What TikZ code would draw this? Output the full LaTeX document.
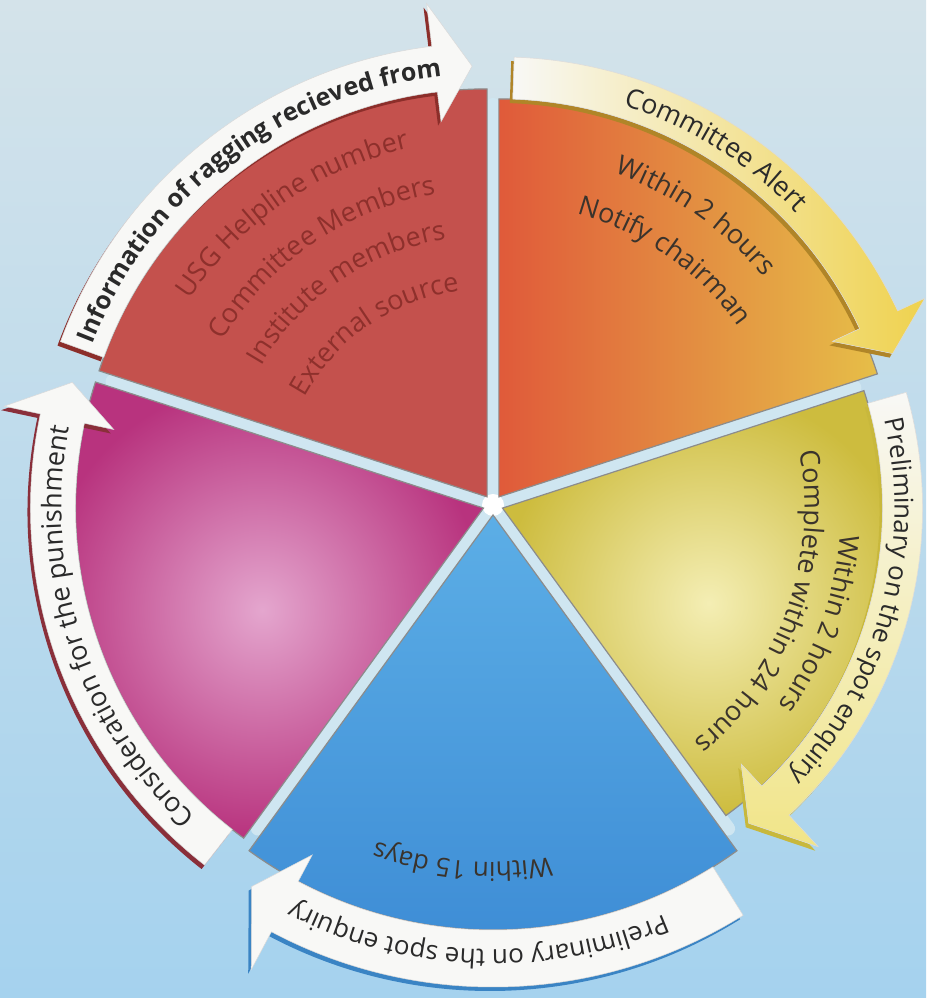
\documentclass[tikz,border=0pt]{standalone}
\usepackage{fontspec}
\setmainfont{Open Sans}
\usetikzlibrary{decorations.text}

\definecolor{skytop}{HTML}{D4E3EA}
\definecolor{skybot}{HTML}{A5D2EE}
\definecolor{gapcol}{HTML}{CFE6F1}
\definecolor{redsec}{HTML}{C4514D}
\definecolor{redshade}{HTML}{8C2E2A}
\definecolor{redtext}{HTML}{8E302C}
\definecolor{orangeL}{HTML}{E05A3A}
\definecolor{orangeR}{HTML}{E6BE48}
\definecolor{orangeband}{HTML}{EFD24E}
\definecolor{orangeshade}{HTML}{B08528}
\definecolor{yellowsec}{HTML}{CDBC3E}
\definecolor{yellowhi}{HTML}{F4EEB4}
\definecolor{yellowband}{HTML}{F1E588}
\definecolor{yellowshade}{HTML}{C8B83C}
\definecolor{bluetop}{HTML}{5CAEE6}
\definecolor{bluebot}{HTML}{3D8CD5}
\definecolor{blueshade}{HTML}{3A84C4}
\definecolor{pinksec}{HTML}{B8337E}
\definecolor{pinkhi}{HTML}{E4A6CE}
\definecolor{pinkshade}{HTML}{8A2F3A}
\definecolor{bandwhite}{HTML}{F8F8F6}
\definecolor{bandtext}{HTML}{2A2A2A}
\definecolor{darktext}{HTML}{3A332C}

\newcommand\bandfont{\fontsize{27}{30}\selectfont}
\newcommand\bandbold{\fontsize{25}{28}\selectfont\bfseries}
\newcommand\secfont{\fontsize{27}{30}\selectfont}

\tikzset{
  sector/.style={draw=black!45, line width=1.2pt},
  gapline/.style={draw=gapcol, line width=14pt, line cap=round},
  band/.style={preaction={fill=#1, transform canvas={shift={(-3,-4)}}}, fill=bandwhite, draw=black!15, line width=0.5pt},
  arctext/.style={decorate, decoration={text along path, text align=center}}
}

\begin{document}
\begin{tikzpicture}[x=1pt, y=1pt]
\useasboundingbox (0,0) rectangle (926,998);
\shade[top color=skytop, bottom color=skybot] (0,0) rectangle (926,998);

\begin{scope}[shift={(493,493)}]
  % light gaps between the pieces
  \path[gapline] (0,0) -- (90:400) (0,0) -- (18:380) (0,0) -- (-54:400) (0,0) -- (-126:400) (0,0) -- (162:400);
  \fill[white] (0,0) circle (11);

  % information received
  \begin{scope}[shift={(126:10)}]
    \path[sector, fill=redsec] (0,0) -- (162:408) arc[start angle=162, end angle=90, radius=408] -- cycle;
    \path[band=redshade] (160:408) arc[start angle=160, end angle=97, radius=408] -- (97:378) -- (92:431) -- (97:497) -- (97:454) arc[start angle=97, end angle=160, radius=454] -- cycle;
    \path[arctext, decoration={text={|\bandbold\color{bandtext}|Information of ragging recieved from}}] (163:423) arc[start angle=163, end angle=92, radius=423];
    \path[arctext, decoration={text={|\secfont\color{redtext}|USG Helpline number}}] (165:357) arc[start angle=165, end angle=84, radius=357];
    \path[arctext, decoration={text={|\secfont\color{redtext}|Committee Members}}] (165:307) arc[start angle=165, end angle=84, radius=307];
    \path[arctext, decoration={text={|\secfont\color{redtext}|Institute members}}] (170:261) arc[start angle=170, end angle=79, radius=261];
    \path[arctext, decoration={text={|\secfont\color{redtext}|External source}}] (175:208) arc[start angle=175, end angle=74, radius=208];
  \end{scope}

  % committee alert
  \begin{scope}[shift={(54:10)}]
    \shade[sector, left color=orangeL, right color=orangeR] (0,0) -- (90:398) arc[start angle=90, end angle=18, radius=398] -- cycle;
    \shade[band=orangeshade, left color=bandwhite, right color=orangeband] (88:398) arc[start angle=88, end angle=25, radius=398] -- (25:368) -- (20:419) -- (25:470) -- (25:440) arc[start angle=25, end angle=88, radius=440] -- cycle;
    \path[arctext, decoration={text={|\bandfont\color{bandtext}|Committee Alert}}] (88:411) arc[start angle=88, end angle=28, radius=411];
    \path[arctext, decoration={text={|\secfont\color{darktext}|Within 2 hours}}] (95:344) arc[start angle=95, end angle=15, radius=344];
    \path[arctext, decoration={text={|\secfont\color{darktext}|Notify chairman}}] (95:294) arc[start angle=95, end angle=15, radius=294];
  \end{scope}

  % on the spot enquiry
  \begin{scope}[shift={(-18:10)}]
    \shade[sector, inner color=yellowhi, outer color=yellowsec] (0,0) -- (18:380) arc[start angle=18, end angle=-54, radius=380] -- cycle;
    \shade[band=yellowshade, top color=bandwhite, bottom color=yellowband] (16:380) arc[start angle=16, end angle=-47, radius=380] -- (-47:350) -- (-52:400) -- (-47:463) -- (-47:420) arc[start angle=-47, end angle=16, radius=420] -- cycle;
    \path[arctext, decoration={text={|\fontsize{26}{29}\selectfont\color{bandtext}|Preliminary on the spot enquiry}}] (18:392) arc[start angle=18, end angle=-48, radius=392];
    \path[arctext, decoration={text={|\secfont\color{darktext}|Within 2 hours}}] (20:339) arc[start angle=20, end angle=-60, radius=339];
    \path[arctext, decoration={text={|\secfont\color{darktext}|Complete within 24 hours}}] (20:302) arc[start angle=20, end angle=-60, radius=302];
  \end{scope}

  % enquiry within 15 days
  \begin{scope}[shift={(-90:10)}]
    \shade[sector, top color=bluetop, bottom color=bluebot] (0,0) -- (-54:415) arc[start angle=-54, end angle=-126, radius=415] -- cycle;
    \path[band=blueshade] (-58:415) arc[start angle=-58, end angle=-118, radius=415] -- (-118:385) -- (-123:443) -- (-118:515) -- (-118:472) arc[start angle=-118, end angle=-58, radius=472] -- cycle;
    \path[arctext, decoration={text={|\fontsize{26}{29}\selectfont\color{bandtext}|Preliminary on the spot enquiry}}] (-60:435) arc[start angle=-60, end angle=-124, radius=435];
    \path[arctext, decoration={text={|\fontsize{26}{29}\selectfont\color{darktext}|Within 15 days}}] (-50:347) arc[start angle=-50, end angle=-140, radius=347];
  \end{scope}

  % punishment
  \begin{scope}[shift={(198:10)}]
    \shade[sector, inner color=pinkhi, outer color=pinksec] (0,0) -- (234:408) arc[start angle=234, end angle=162, radius=408] -- cycle;
    \path[band=pinkshade] (232:408) arc[start angle=232, end angle=168, radius=408] -- (168:378) -- (163:430) -- (168:490) -- (168:453) arc[start angle=168, end angle=232, radius=453] -- cycle;
    \path[arctext, decoration={text={|\bandfont\color{bandtext}|Consideration for the punishment}}] (232:422) arc[start angle=232, end angle=164, radius=422];
  \end{scope}
\end{scope}
\end{tikzpicture}
\end{document}
